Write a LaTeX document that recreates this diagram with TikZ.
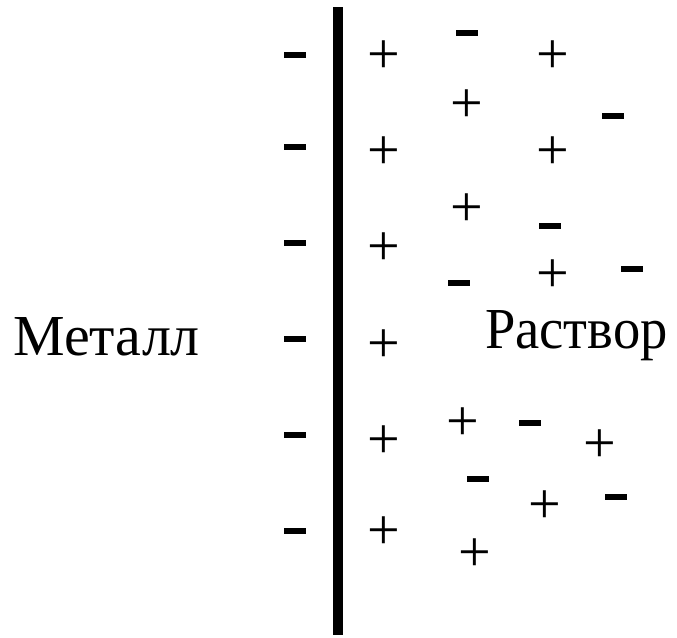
\documentclass[tikz,border=0pt]{standalone}
\usepackage{fontspec}
\setmainfont{Liberation Serif}
\begin{document}
\begin{tikzpicture}[x=1pt,y=-1pt,
  posion/.style={inner sep=0pt,font=\fontsize{58}{58}\selectfont},
  negion/.style={inner sep=0pt,fill=black,minimum width=22pt,minimum height=6pt},
  lbl/.style={inner sep=0pt,anchor=base west,font=\fontsize{58}{58}\selectfont}]
\useasboundingbox (0,0) rectangle (677,637);
% electrode
\coordinate (top) at (338,7);
\coordinate (bot) at (338,635);
\draw[line width=10pt] (top) -- (bot);
% metal side negative charges
\foreach \y [count=\i] in {55,147,243,339,435,531}
  \node[negion] (mn\i) at (295,\y) {};
% double layer positive charges
\foreach \y [count=\i] in {57,153,249,346,442,533}
  \node[posion] (dp\i) at (384,\y) {+};
% solution ions
\node[negion] (s1) at (467,33) {};
\node[posion] (s2) at (553,57) {+};
\node[posion] (s3) at (467,106) {+};
\node[negion] (s4) at (613,116) {};
\node[posion] (s5) at (553,153) {+};
\node[posion] (s6) at (467,210) {+};
\node[negion] (s7) at (550,226) {};
\node[negion] (s8) at (459,283) {};
\node[posion] (s9) at (553,276) {+};
\node[negion] (s10) at (632,269) {};
\node[posion] (s11) at (463,424) {+};
\node[negion] (s12) at (530,423) {};
\node[posion] (s13) at (600,446) {+};
\node[negion] (s14) at (478,479) {};
\node[posion] (s15) at (545,507) {+};
\node[negion] (s16) at (616,497) {};
\node[posion] (s17) at (475,555) {+};
% labels
\node[lbl] (metal) at (13,355) {Металл};
\node[lbl] (sol) at (485,348) {\scalebox{0.94}[1]{Раствор}};
\end{tikzpicture}
\end{document}
